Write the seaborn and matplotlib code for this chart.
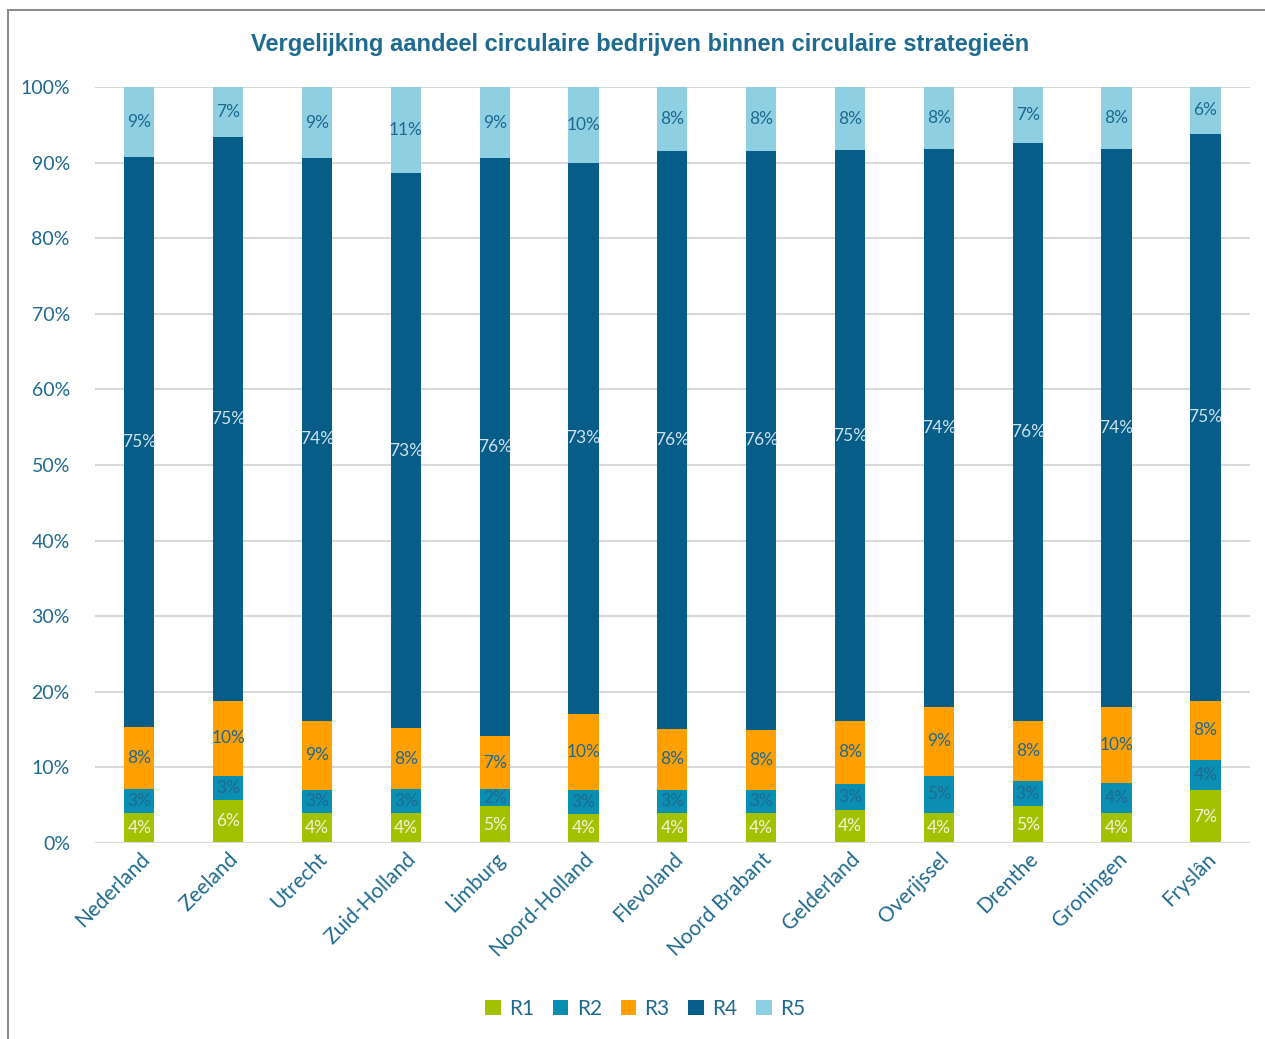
import numpy as np
import pandas as pd
import seaborn as sns
import matplotlib.pyplot as plt
from matplotlib.patches import Patch, Rectangle

# Gegevens (aandeel per circulaire strategie, in %)
regio = ['Nederland', 'Zeeland', 'Utrecht', 'Zuid-Holland', 'Limburg',
         'Noord-Holland', 'Flevoland', 'Noord Brabant', 'Gelderland',
         'Overijssel', 'Drenthe', 'Groningen', 'Fryslân']
r1 = [4.0, 5.7, 4.0, 4.0, 4.9, 3.9, 4.0, 4.0, 4.4, 4.0, 4.9, 4.0, 7.0]
r2 = [3.1, 3.2, 3.0, 3.1, 2.2, 3.1, 3.0, 3.0, 3.4, 4.9, 3.3, 3.9, 4.0]
r3 = [8.2, 9.9, 9.2, 8.1, 7.1, 10.1, 8.1, 8.0, 8.4, 9.1, 8.0, 10.1, 7.8]
r4 = [75.4, 74.6, 74.4, 73.4, 76.4, 72.9, 76.4, 76.5, 75.4, 73.8, 76.4, 73.8, 75.0]
r5 = [9.3, 6.6, 9.4, 11.4, 9.4, 10.0, 8.5, 8.5, 8.4, 8.2, 7.4, 8.2, 6.2]

reeksen = ['R1', 'R2', 'R3', 'R4', 'R5']
kleuren = ['#A2C200', '#0A8EB2', '#FF9F00', '#065D88', '#8ECFE2']
labelkleuren = ['#F4F1D8', '#1F6A8F', '#1F6A8F', '#CFE0EC', '#1F6A8F']
tekstkleur = '#1F6A8F'

df = pd.DataFrame({'regio': regio, 'R1': r1, 'R2': r2, 'R3': r3, 'R4': r4, 'R5': r5})
cum = df[reeksen].cumsum(axis=1)

sns.set_theme(style='white')
plt.rcParams['font.family'] = ['Lato', 'DejaVu Sans']

fig = plt.figure(figsize=(12.65, 10.39), dpi=100)
ax = fig.add_axes([0.075, 0.1886, 0.913, 0.7277])

# gestapelde balken: van boven naar beneden tekenen
for i in range(len(reeksen) - 1, -1, -1):
    sns.barplot(x=df['regio'], y=cum[reeksen[i]], color=kleuren[i], errorbar=None,
                width=0.34, saturation=1, linewidth=0, ax=ax, zorder=3)

# labels in het midden van elk segment
for j in range(len(regio)):
    onder = 0
    for i, r in enumerate(reeksen):
        v = df[r].iloc[j]
        ax.text(j, onder + v / 2, f'{round(v):.0f}%', ha='center', va='center',
                fontsize=12.5, color=labelkleuren[i], zorder=5)
        onder += v

ax.set_ylim(0, 100)
ax.set_xlim(-0.5, len(regio) - 0.5)
ax.set_yticks(np.arange(0, 101, 10))
ax.set_yticklabels([f'{t}%' for t in range(0, 101, 10)])
ax.yaxis.grid(True, color='#D9D9D9', linewidth=1.5, zorder=0)
ax.set_axisbelow(True)
for s in ax.spines.values():
    s.set_visible(False)
ax.axhline(0, color='#D9D9D9', linewidth=1.5, zorder=4)
ax.set_xlabel('')
ax.set_ylabel('')
ax.tick_params(axis='y', colors=tekstkleur, labelsize=14, length=0, pad=18)
ax.tick_params(axis='x', colors=tekstkleur, labelsize=15, length=0, pad=4)
plt.setp(ax.get_xticklabels(), rotation=45, ha='right', rotation_mode='anchor')

fig.text(0.506, 0.957, 'Vergelijking aandeel circulaire bedrijven binnen circulaire strategieën',
         ha='center', va='center', fontsize=17, fontweight='bold', color='#1F6A8F',
         family=['Liberation Sans', 'DejaVu Sans'])

handles = [Patch(facecolor=k, edgecolor='none') for k in kleuren]
fig.legend(handles, reeksen, loc='center', bbox_to_anchor=(0.51, 0.029), ncol=5,
           frameon=False, fontsize=15, handlelength=0.75, handleheight=0.75,
           handletextpad=0.4, columnspacing=0.9, labelcolor=tekstkleur)

# rand van de grafiek
fig.patches.append(Rectangle((8 / 1265, -0.05), 1.2, 1 - 10 / 1039 + 0.05,
                             transform=fig.transFigure, fill=False,
                             edgecolor='#8C8C8C', linewidth=1.5))

fig.savefig('out.png', dpi=100, facecolor='white')
